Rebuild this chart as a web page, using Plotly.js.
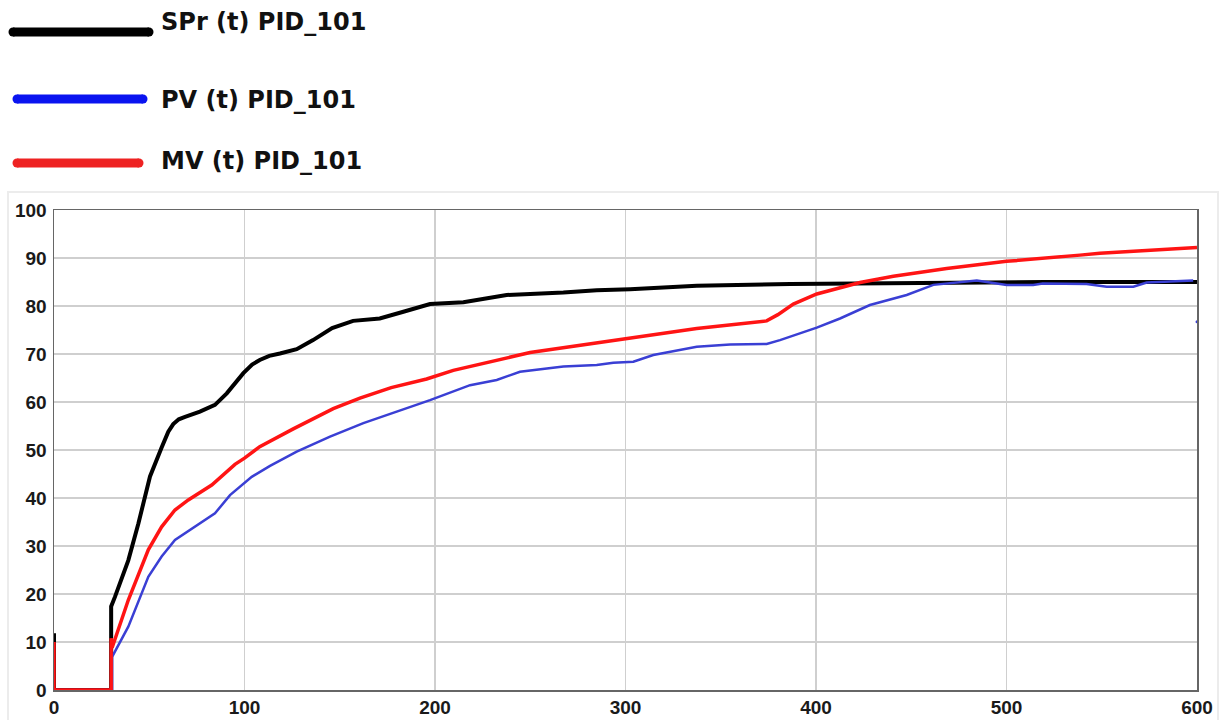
<!DOCTYPE html>
<html>
<head>
<meta charset="utf-8">
<script src="https://cdn.plot.ly/plotly-3.0.1.min.js"></script>
<style>html,body{margin:0;padding:0;background:#fff;}#chart{width:1230px;height:720px;}</style>
</head>
<body>
<div id="chart"></div>
<script>
// ---- Data ----
const seriesNames = ["SPr (t) PID_101", "PV (t) PID_101", "MV (t) PID_101"];

const sprTime = [0, 0, 30, 30, 32, 39, 44.3, 49.5, 50.4, 56.5, 60, 62.6, 65.5, 68.8, 76.6, 84.5, 90.7, 99.4, 104, 108, 113, 118.6, 127.4, 136, 146, 157, 171, 183.4, 197.4, 214.9, 237.6, 267.4, 284.9, 302.4, 337.4, 386.4, 450, 520, 600];
const sprValue = [11.8, 0, 0, 17.4, 19.4, 27, 34.7, 43.4, 44.5, 50.5, 53.8, 55.4, 56.4, 56.9, 58, 59.4, 61.8, 66, 67.8, 68.75, 69.6, 70.1, 71, 72.9, 75.4, 76.9, 77.4, 78.8, 80.4, 80.8, 82.3, 82.8, 83.3, 83.5, 84.2, 84.6, 84.85, 85, 85];

const pvTime = [0, 30.5, 30.5, 39, 49.5, 56.5, 63.5, 74, 84.5, 92.4, 99.4, 103.8, 113.4, 127.4, 144.9, 162.4, 179.9, 197.4, 218.4, 232.4, 244.6, 267.4, 284.9, 293.6, 304.1, 314.6, 337.4, 354.9, 374.1, 381.1, 400.4, 412.6, 428.3, 447.6, 461.6, 484.4, 500.1, 514, 519, 542, 552.6, 566.6, 573.6, 598];
const pvValue = [0, 0, 6.9, 13.2, 23.6, 27.8, 31.25, 34, 36.8, 40.6, 43, 44.4, 46.7, 49.65, 52.8, 55.6, 58, 60.4, 63.5, 64.6, 66.3, 67.4, 67.7, 68.2, 68.4, 69.8, 71.5, 72, 72.1, 72.9, 75.5, 77.4, 80.2, 82.3, 84.4, 85.3, 84.4, 84.4, 84.7, 84.6, 84, 84, 84.9, 85.3];
const pvStrayTime = [600];
const pvStrayValue = [76.7];

const mvTime = [0, 0, 30, 30, 30.5, 39, 49.5, 56.5, 63.5, 70.5, 82.8, 95, 100, 108, 125.6, 146.6, 160.6, 177, 195.6, 209.6, 249.9, 300.6, 337.4, 374.1, 380, 388.1, 400.4, 423.1, 440.6, 468.6, 500, 538.6, 549, 600];
const mvValue = [10, 0, 0, 10.8, 8.8, 18.75, 29.2, 34, 37.5, 39.6, 42.7, 47, 48.3, 50.7, 54.4, 58.6, 60.8, 63, 64.8, 66.6, 70.3, 73.3, 75.3, 76.9, 78.2, 80.4, 82.5, 84.9, 86.2, 87.8, 89.3, 90.6, 91, 92.2];

const xTicks = [0, 100, 200, 300, 400, 500, 600];
const yTicks = [0, 10, 20, 30, 40, 50, 60, 70, 80, 90, 100];

// ---- Layout helpers (pixel -> paper) ----
const L = 54, R = 1197, T = 210, B = 690;
const px = p => (p - L) / (R - L);
const py = p => (B - p) / (B - T);

const colors = ["#000000", "#3a3fd4", "#ff1414"];
const legendColors = ["#000000", "#0a14f0", "#ee2222"];

const traces = [
  {x: sprTime, y: sprValue, mode: "lines", name: seriesNames[0], line: {color: colors[0], width: 4}},
  {x: pvTime, y: pvValue, mode: "lines", name: seriesNames[1], line: {color: colors[1], width: 2.5}},
  {x: pvStrayTime, y: pvStrayValue, mode: "markers", name: seriesNames[1], marker: {color: colors[1], size: 3}, cliponaxis: false},
  {x: mvTime, y: mvValue, mode: "lines", name: seriesNames[2], line: {color: colors[2], width: 3.5}}
];

const legendRows = [
  {x0: 13, x1: 149, y: 32, ty: 22},
  {x0: 17, x1: 143, y: 99, ty: 100},
  {x0: 17, x1: 139, y: 163, ty: 161}
];

const shapes = [
  {type: "rect", xref: "paper", yref: "paper", x0: px(8), x1: px(1218), y0: py(192), y1: py(722),
   line: {color: "#ececec", width: 2}, fillcolor: "rgba(0,0,0,0)", layer: "below"}
];
const annotations = [];
legendRows.forEach((r, i) => {
  shapes.push({type: "line", xref: "paper", yref: "paper", x0: px(r.x0), x1: px(r.x1), y0: py(r.y), y1: py(r.y),
    line: {color: legendColors[i], width: 9}});
  [r.x0, r.x1].forEach(cx => shapes.push({type: "circle", xref: "paper", yref: "paper",
    x0: px(cx - 4.5), x1: px(cx + 4.5), y0: py(r.y + 4.5), y1: py(r.y - 4.5),
    line: {width: 0}, fillcolor: legendColors[i]}));
  annotations.push({xref: "paper", yref: "paper", x: px(159), y: py(r.ty), xanchor: "left", yanchor: "middle",
    text: seriesNames[i], showarrow: false,
    font: {family: "DejaVu Sans", size: 24, weight: 700, color: "#111"}});
});

const axisCommon = {
  showgrid: true, gridcolor: "#cfcfcf", gridwidth: 1.5,
  showline: true, linecolor: "#666", linewidth: 1.5, mirror: true,
  zeroline: false, ticks: "",
  tickfont: {family: "Liberation Sans, Arial, sans-serif", size: 19, weight: 700, color: "#1a1a1a"}
};

const layout = {
  width: 1230, height: 720,
  margin: {l: L, r: 1230 - R, t: T, b: 720 - B},
  paper_bgcolor: "#ffffff", plot_bgcolor: "#ffffff",
  showlegend: false,
  xaxis: Object.assign({}, axisCommon, {range: [0, 600], tickvals: xTicks, ticktext: xTicks.map(String)}),
  yaxis: Object.assign({}, axisCommon, {range: [0, 100], tickvals: yTicks, ticktext: yTicks.map(String), ticklabelstandoff: 2}),
  shapes: shapes,
  annotations: annotations
};

Plotly.newPlot("chart", traces, layout, {displayModeBar: false, staticPlot: true});
</script>
</body>
</html>
